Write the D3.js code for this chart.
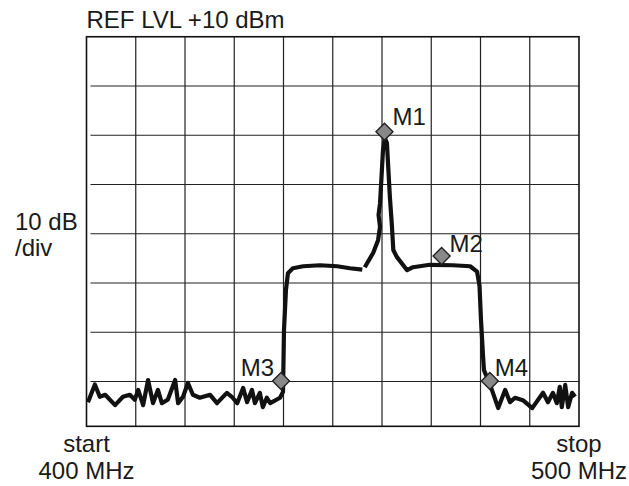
<!DOCTYPE html>
<html>
<head>
<meta charset="utf-8">
<script src="https://cdn.jsdelivr.net/npm/d3@7"></script>
<style>
  body { margin: 0; background: #fff; }
  text { font-family: "Liberation Sans", Arial, sans-serif; fill: #1a1a1a; }
</style>
</head>
<body>
<div id="chart"></div>
<script>
// spectrum analyzer screen: 400-500 MHz, ref +10 dBm, 10 dB/div

var freq = [400.3, 401.7, 402.7, 403.8, 405.8, 407.4, 408.8, 409.8, 410.5, 411.5,
  412.5, 413.5, 414.5, 415.3, 416.5, 418.0, 418.6, 419.6, 420.6, 421.6,
  423.0, 425.1, 426.5, 428.5, 429.5, 430.6, 431.8, 432.6, 433.6, 434.2,
  435.2, 435.8, 436.6, 437.3, 439.3, 439.9, 440.1, 440.5, 440.9, 441.9,
  444.0, 447.4, 450.9, 453.5, 456.0, null, 456.5, 458.2, 459.2, 459.6,
  459.3, 459.6, 459.9, 460.2, 460.6, 461.0, 461.3, 461.6, 462.0, 462.3,
  463.0, 465.1, 466.3, 469.7, 474.4, 477.9, 479.3, 479.8, 480.1, 480.5,
  480.7, 481.3, 482.1, 483.6, 485.0, 486.0, 487.0, 488.6, 490.5, 492.7,
  493.7, 494.7, 495.5, 496.1, 496.5, 497.2, 497.8, 498.6, 499.2];
var level = [-64.2, -60.6, -63.1, -62.7, -64.8, -63.1, -62.7, -63.7, -61.7, -64.8,
  -59.7, -64.4, -61.7, -64.4, -63.7, -59.7, -64.4, -63.1, -60.3, -62.7,
  -63.3, -62.7, -64.4, -62.3, -63.1, -64.4, -61.3, -64.2, -61.7, -64.4,
  -62.3, -65.2, -63.3, -64.4, -63.3, -62.1, -49.5, -41.4, -38.0, -37.0,
  -36.6, -36.4, -36.6, -37.0, -37.3, null, -36.8, -33.9, -31.3, -28.6,
  -26.2, -23.8, -18.5, -13.0, -10.6, -11.6, -17.1, -22.5, -28.2, -33.3,
  -34.7, -37.4, -36.8, -36.3, -36.4, -36.6, -37.7, -40.6, -47.5, -54.6,
  -57.7, -59.1, -61.1, -65.4, -61.7, -64.2, -63.3, -63.8, -65.4, -62.3,
  -64.2, -62.3, -64.4, -61.1, -65.2, -60.7, -65.2, -62.3, -63.1];

var markerNames = ["M1", "M2", "M3", "M4"];
var markerFreq = [460.5, 472.1, 439.5, 481.9];
var markerLevel = [-9.3, -34.5, -59.9, -59.9];

var svgWidth = 629;
var svgHeight = 486;

var svg = d3.select("#chart")
  .append("svg")
  .attr("width", svgWidth)
  .attr("height", svgHeight);

var x = d3.scaleLinear().domain([400, 500]).range([86.5, 579]);
var y = d3.scaleLinear().domain([-60, 0]).range([381.5, 86]);

var frameTop = y(10), frameBottom = y(-69.1);

// grid
var grid = svg.append("g");
grid.selectAll(".vline")
  .data(d3.range(410, 500, 10))
  .enter()
  .append("line")
  .attr("x1", d => x(d)).attr("x2", d => x(d))
  .attr("y1", frameTop).attr("y2", frameBottom)
  .attr("stroke", "#222")
  .attr("stroke-width", 1.2);

grid.selectAll(".hline")
  .data(d3.range(-60, 10, 10))
  .enter()
  .append("line")
  .attr("x1", x(400) + 4).attr("x2", x(500))
  .attr("y1", d => y(d)).attr("y2", d => y(d))
  .attr("stroke", "#222")
  .attr("stroke-width", 1.2);

svg.append("rect")
  .attr("x", x(400)).attr("y", frameTop)
  .attr("width", x(500) - x(400))
  .attr("height", frameBottom - frameTop)
  .attr("fill", "none")
  .attr("stroke", "#111")
  .attr("stroke-width", 1.6);

// trace
var pts = freq.map((f, i) => ({ f: f, v: level[i] }));
var line = d3.line()
  .defined(d => d.f !== null)
  .x(d => x(d.f))
  .y(d => y(d.v));

svg.append("path")
  .datum(pts)
  .attr("d", line)
  .attr("fill", "none")
  .attr("stroke", "#111")
  .attr("stroke-width", 4.2)
  .attr("stroke-linejoin", "round")
  .attr("stroke-linecap", "butt");

// markers
var labelDx = [8, 8, -7, 5];
var labelDy = [-7, -4, -5, -5];
var markers = markerNames.map((m, i) => ({ name: m, f: markerFreq[i], v: markerLevel[i], dx: labelDx[i], dy: labelDy[i] }));

svg.selectAll(".mk")
  .data(markers)
  .enter()
  .append("path")
  .attr("d", d => {
    var cx = x(d.f), cy = y(d.v), r = 8.5;
    return `M${cx},${cy - r}L${cx + r},${cy}L${cx},${cy + r}L${cx - r},${cy}Z`;
  })
  .attr("fill", "#888")
  .attr("stroke", "#222")
  .attr("stroke-width", 1.4);

svg.selectAll(".mklabel")
  .data(markers)
  .enter()
  .append("text")
  .attr("x", d => x(d.f) + d.dx)
  .attr("y", d => y(d.v) + d.dy)
  .attr("text-anchor", d => d.dx < 0 ? "end" : "start")
  .style("font-size", "24px")
  .text(d => d.name);

// labels
svg.append("text")
  .attr("x", x(400)).attr("y", 28)
  .style("font-size", "24px")
  .text("REF LVL +10 dBm");

svg.append("text")
  .attr("x", 15).attr("y", 230)
  .style("font-size", "24px")
  .text("10 dB");
svg.append("text")
  .attr("x", 15).attr("y", 256)
  .style("font-size", "24px")
  .text("/div");

var ends = [
  { f: 400, a: "start", b: "400 MHz" },
  { f: 500, a: "stop", b: "500 MHz" }
];
ends.forEach(function(e) {
  svg.append("text")
    .attr("x", x(e.f)).attr("y", 452)
    .attr("text-anchor", "middle")
    .style("font-size", "24px")
    .text(e.a);
  svg.append("text")
    .attr("x", x(e.f)).attr("y", 479)
    .attr("text-anchor", "middle")
    .style("font-size", "24px")
    .text(e.b);
});
</script>
</body>
</html>
